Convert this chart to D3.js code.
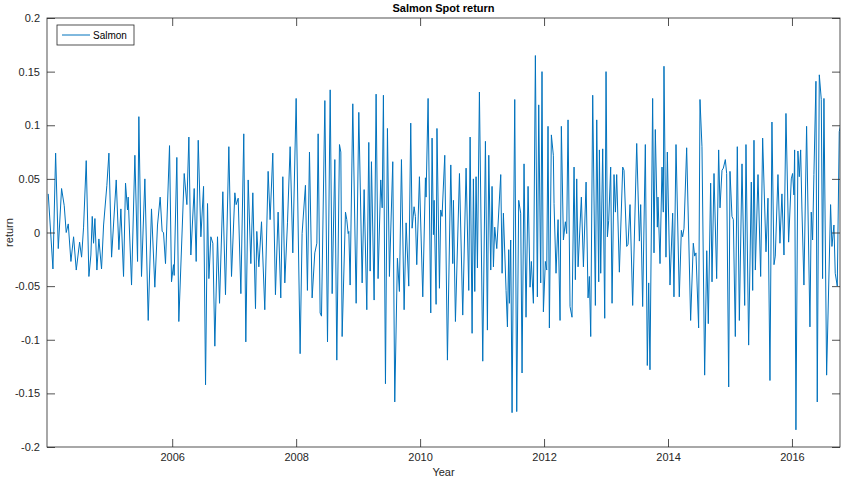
<!DOCTYPE html>
<html><head><meta charset="utf-8">
<script src="https://cdn.jsdelivr.net/npm/d3@7"></script>
<style>body{margin:0;background:#fff}svg{display:block}</style>
</head><body>
<svg id="c" width="841" height="479"></svg>
<script>
// Data (decimal year, weekly return at turning points)
const years = [
2004.000,2004.076,2004.119,2004.162,2004.215,2004.258,2004.290,2004.323,2004.366,2004.409,
2004.452,2004.506,2004.538,2004.570,2004.613,2004.656,2004.688,2004.710,2004.731,2004.753,
2004.785,2004.817,2004.860,2004.893,2004.946,2004.979,2005.022,2005.097,2005.140,2005.172,
2005.215,2005.247,2005.279,2005.290,2005.344,2005.398,2005.441,2005.462,2005.505,2005.559,
2005.613,2005.666,2005.720,2005.763,2005.806,2005.838,2005.860,2005.892,2005.957,2005.989,
2006.021,2006.032,2006.075,2006.107,2006.194,2006.237,2006.269,2006.301,2006.355,2006.387,
2006.420,2006.463,2006.506,2006.538,2006.570,2006.592,2006.624,2006.656,2006.688,2006.731,
2006.764,2006.817,2006.860,2006.914,2006.957,2007.011,2007.032,2007.065,2007.108,2007.155,
2007.188,2007.226,2007.269,2007.301,2007.344,2007.365,2007.398,2007.441,2007.494,2007.548,
2007.580,2007.623,2007.666,2007.709,2007.752,2007.785,2007.817,2007.860,2007.903,2007.946,
2008.000,2008.064,2008.096,2008.150,2008.182,2008.215,2008.258,2008.301,2008.334,2008.355,
2008.387,2008.409,2008.463,2008.506,2008.549,2008.581,2008.624,2008.656,2008.699,2008.721,
2008.742,2008.796,2008.817,2008.839,2008.850,2008.871,2008.914,2008.968,2009.011,2009.065,
2009.097,2009.140,2009.172,2009.194,2009.215,2009.258,2009.290,2009.322,2009.365,2009.388,
2009.408,2009.441,2009.473,2009.505,2009.559,2009.591,2009.634,2009.666,2009.699,2009.742,
2009.774,2009.817,2009.849,2009.871,2009.903,2009.924,2009.946,2009.989,2010.043,2010.086,
2010.096,2010.129,2010.172,2010.193,2010.215,2010.226,2010.258,2010.272,2010.312,2010.333,
2010.354,2010.398,2010.441,2010.495,2010.527,2010.538,2010.570,2010.635,2010.688,2010.742,
2010.785,2010.807,2010.839,2010.860,2010.882,2010.903,2010.925,2010.957,2011.011,2011.054,
2011.086,2011.108,2011.140,2011.161,2011.183,2011.204,2011.237,2011.301,2011.323,2011.344,
2011.387,2011.409,2011.430,2011.441,2011.462,2011.484,2011.527,2011.559,2011.591,2011.623,
2011.645,2011.677,2011.709,2011.742,2011.774,2011.795,2011.828,2011.860,2011.892,2011.914,
2011.946,2011.967,2011.989,2012.021,2012.043,2012.064,2012.086,2012.118,2012.150,2012.161,
2012.193,2012.226,2012.258,2012.279,2012.312,2012.344,2012.365,2012.387,2012.419,2012.451,
2012.484,2012.505,2012.527,2012.549,2012.602,2012.635,2012.678,2012.710,2012.731,2012.753,
2012.785,2012.828,2012.850,2012.882,2012.893,2012.914,2012.946,2012.979,2013.000,2013.022,
2013.043,2013.075,2013.097,2013.129,2013.151,2013.172,2013.215,2013.269,2013.290,2013.333,
2013.355,2013.387,2013.430,2013.495,2013.538,2013.559,2013.591,2013.634,2013.666,2013.688,
2013.709,2013.752,2013.774,2013.795,2013.828,2013.838,2013.871,2013.903,2013.924,2013.935,
2013.967,2013.989,2014.032,2014.075,2014.096,2014.129,2014.182,2014.215,2014.236,2014.258,
2014.301,2014.365,2014.408,2014.430,2014.451,2014.494,2014.516,2014.548,2014.591,2014.625,
2014.650,2014.688,2014.710,2014.742,2014.785,2014.817,2014.839,2014.871,2014.893,2014.925,
2014.946,2014.979,2015.000,2015.032,2015.054,2015.086,2015.118,2015.151,2015.194,2015.237,
2015.258,2015.301,2015.344,2015.366,2015.387,2015.409,2015.452,2015.495,2015.527,2015.581,
2015.613,2015.645,2015.677,2015.710,2015.731,2015.774,2015.806,2015.838,2015.871,2015.903,
2015.946,2015.989,2016.010,2016.032,2016.043,2016.064,2016.096,2016.118,2016.140,2016.161,
2016.193,2016.236,2016.290,2016.311,2016.333,2016.354,2016.387,2016.408,2016.441,2016.473,
2016.494,2016.516,2016.559,2016.623,2016.645,2016.677,2016.698,2016.731,2016.763,2016.785
];
const salmonReturn = [
0.036,-0.034,0.074,-0.015,0.041,0.025,0.000,0.008,-0.027,-0.004,
-0.035,-0.009,-0.023,0.005,0.067,-0.041,-0.021,0.015,-0.010,0.013,
-0.035,-0.006,-0.034,0.007,0.044,0.074,-0.023,0.049,-0.016,0.022,
-0.041,0.046,0.021,0.033,-0.049,0.072,-0.027,0.108,-0.041,0.050,
-0.082,0.022,-0.051,0.007,0.033,0.001,0.000,-0.029,0.081,-0.046,
-0.030,-0.040,0.070,-0.083,0.055,0.026,0.089,-0.021,0.041,-0.027,
0.086,-0.004,0.043,-0.142,0.027,-0.043,-0.004,-0.010,-0.106,-0.004,
-0.066,0.038,-0.058,0.080,-0.041,0.037,0.026,0.032,-0.057,0.092,
-0.102,0.049,-0.029,0.037,-0.071,0.001,-0.032,0.010,-0.072,0.057,
0.012,0.074,-0.058,0.019,-0.061,0.052,-0.047,0.009,0.080,-0.019,
0.125,-0.113,-0.001,0.044,-0.054,0.075,-0.061,-0.019,-0.010,0.092,
-0.075,-0.078,0.123,-0.102,0.133,-0.057,0.068,-0.119,0.082,0.075,
-0.097,0.019,0.012,-0.001,0.001,-0.049,0.120,-0.066,0.112,-0.047,
0.040,-0.072,0.084,-0.036,0.066,-0.063,0.129,-0.043,0.049,0.023,
0.128,-0.141,0.097,-0.041,0.066,-0.158,-0.024,-0.055,0.068,-0.072,
0.009,-0.050,0.102,0.004,0.024,0.015,-0.030,0.052,-0.060,0.051,
0.033,0.125,-0.075,0.088,-0.002,0.030,-0.067,0.097,-0.052,0.021,
0.015,0.072,-0.119,0.063,-0.029,0.030,-0.083,0.055,-0.077,0.060,
-0.054,0.089,-0.094,0.050,-0.055,0.052,-0.033,0.131,-0.120,0.085,
-0.091,0.072,-0.035,0.043,-0.032,0.005,-0.015,0.054,-0.038,0.018,
-0.054,-0.088,-0.016,-0.066,-0.007,-0.168,0.124,-0.167,0.030,0.018,
-0.131,0.064,-0.079,0.043,-0.051,-0.027,-0.066,0.165,-0.060,0.119,
-0.047,0.150,-0.074,-0.027,-0.035,0.099,-0.089,0.091,0.072,0.027,
-0.038,0.012,-0.082,0.099,-0.007,0.010,-0.001,0.105,-0.069,-0.079,
0.061,-0.044,0.050,-0.032,0.033,-0.032,0.047,-0.061,-0.041,-0.097,
0.128,-0.068,0.105,-0.046,0.077,-0.038,0.078,-0.080,0.150,-0.004,
0.011,0.061,-0.066,0.054,0.019,0.054,-0.037,0.061,0.058,-0.013,
-0.011,0.026,-0.068,0.083,-0.008,0.026,-0.069,0.082,-0.124,-0.047,
-0.128,0.125,-0.019,0.096,0.005,0.033,-0.029,0.061,0.019,0.155,
-0.023,0.075,-0.049,0.018,-0.060,0.082,-0.060,0.002,-0.004,0.004,
0.079,-0.082,-0.010,-0.022,-0.019,-0.089,0.124,0.080,-0.133,-0.017,
-0.085,0.046,-0.046,0.055,-0.043,0.077,0.023,0.058,0.060,0.068,
0.055,-0.144,0.057,0.015,0.012,-0.097,0.080,-0.082,0.064,-0.068,
0.082,-0.105,0.047,-0.054,0.086,-0.035,0.054,-0.041,0.088,-0.018,
0.032,-0.138,0.103,-0.030,-0.022,0.054,-0.010,0.036,-0.021,0.111,
-0.009,0.050,0.055,0.035,0.077,-0.184,0.076,0.052,0.077,0.021,
-0.049,0.099,-0.088,0.019,-0.007,0.054,0.141,-0.158,0.147,0.124,
-0.043,0.125,-0.133,0.026,-0.013,0.007,-0.038,-0.050,0.094,0.100
];
const xTickValues = [2006, 2008, 2010, 2012, 2014, 2016];
const yTickValues = [-0.2, -0.15, -0.1, -0.05, 0, 0.05, 0.1, 0.15, 0.2];
const yTickLabels = ["-0.2", "-0.15", "-0.1", "-0.05", "0", "0.05", "0.1", "0.15", "0.2"];
const seriesName = "Salmon";
const chartTitle = "Salmon Spot return";
const xLabel = "Year";
const yLabel = "return";

const W = 841, H = 479;
const L = 47, R = 840, T = 18, B = 447;
const ink = "#262626", lineColor = "#0072BD";
const font = "'Liberation Sans', Arial, Helvetica, sans-serif";

const svg = d3.select("#c");
svg.append("rect").attr("width", W).attr("height", H).attr("fill", "#fff");

const x = d3.scaleLinear().domain([2003.98, 2016.775]).range([L, R]);
const y = d3.scaleLinear().domain([-0.2, 0.2]).range([B, T]);

const data = years.map((t, i) => ({t, v: salmonReturn[i]}));

svg.append("defs").append("clipPath").attr("id", "clip")
  .append("rect").attr("x", L).attr("y", T).attr("width", R - L).attr("height", B - T);

svg.append("path").datum(data)
  .attr("clip-path", "url(#clip)")
  .attr("fill", "none").attr("stroke", lineColor).attr("stroke-width", 1)
  .attr("stroke-linejoin", "round")
  .attr("d", d3.line().x(d => x(d.t)).y(d => y(d.v)));

const tl = 8;
const styleAxis = (g) => {
  g.select(".domain").remove();
  g.selectAll("line").attr("stroke", ink).attr("stroke-width", 0.8);
  g.selectAll("text").attr("fill", ink).style("font-family", font).style("font-size", "11px");
};

// bottom / top
svg.append("g").attr("transform", `translate(0,${B})`)
  .call(d3.axisBottom(x).tickValues(xTickValues).tickFormat(d3.format("d")).tickSizeInner(-tl).tickSizeOuter(0).tickPadding(6))
  .call(styleAxis);
svg.append("g").attr("transform", `translate(0,${T})`)
  .call(d3.axisTop(x).tickValues(xTickValues).tickFormat("").tickSizeInner(-tl).tickSizeOuter(0))
  .call(styleAxis);
// left / right
svg.append("g").attr("transform", `translate(${L},0)`)
  .call(d3.axisLeft(y).tickValues(yTickValues).tickFormat((d, i) => yTickLabels[i]).tickSizeInner(-tl).tickSizeOuter(0).tickPadding(7))
  .call(styleAxis);
svg.append("g").attr("transform", `translate(${R},0)`)
  .call(d3.axisRight(y).tickValues(yTickValues).tickFormat("").tickSizeInner(-tl).tickSizeOuter(0))
  .call(styleAxis);

// box
svg.append("rect").attr("x", L).attr("y", T).attr("width", R - L).attr("height", B - T)
  .attr("fill", "none").attr("stroke", ink).attr("stroke-width", 0.8);

// title & labels
svg.append("text").attr("x", (L + R) / 2).attr("y", 12).attr("text-anchor", "middle")
  .attr("fill", "#000").style("font-family", font).style("font-size", "11px").style("font-weight", "bold")
  .text(chartTitle);
svg.append("text").attr("x", (L + R) / 2).attr("y", 476).attr("text-anchor", "middle")
  .attr("fill", ink).style("font-family", font).style("font-size", "11px").text(xLabel);
svg.append("text").attr("transform", `translate(13,${(T + B) / 2}) rotate(-90)`).attr("text-anchor", "middle")
  .attr("fill", ink).style("font-family", font).style("font-size", "11px").text(yLabel);

// legend
const lg = svg.append("g");
lg.append("rect").attr("x", 57).attr("y", 25).attr("width", 77).attr("height", 20)
  .attr("fill", "#fff").attr("stroke", ink).attr("stroke-width", 0.8);
lg.append("line").attr("x1", 62).attr("x2", 90).attr("y1", 35).attr("y2", 35)
  .attr("stroke", lineColor).attr("stroke-width", 1);
lg.append("text").attr("x", 93).attr("y", 39).attr("fill", "#000")
  .style("font-family", font).style("font-size", "10px").text(seriesName);
</script>
</body></html>
